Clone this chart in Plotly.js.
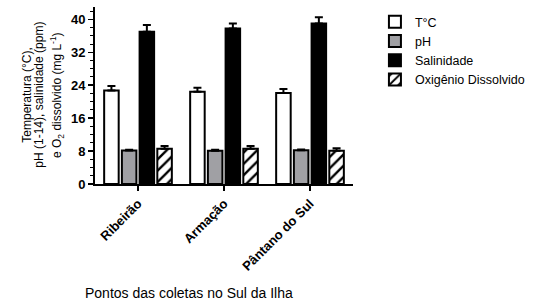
<!DOCTYPE html>
<html><head><meta charset="utf-8">
<script src="https://cdn.plot.ly/plotly-3.0.1.min.js"></script>
<style>html,body{margin:0;padding:0;background:#fff}#chart{width:537px;height:304px}</style>
</head><body><div id="chart"></div>
<script>
var categories = ["Ribeirão", "Armação", "Pântano do Sul"];
var seriesNames = ["T°C", "pH", "Salinidade", "Oxigênio Dissolvido"];
var temperatura = [22.7, 22.4, 22.1];
var temperaturaErr = [1.1, 1.0, 1.0];
var ph = [8.15, 8.1, 8.2];
var phErr = [0.2, 0.2, 0.2];
var salinidade = [37.0, 37.8, 39.0];
var salinidadeErr = [1.6, 1.2, 1.5];
var oxigenio = [8.55, 8.55, 8.05];
var oxigenioErr = [0.7, 0.7, 0.65];
var yTicks = [0, 8, 16, 24, 32, 40];
var yTitleLines = ['Temperatura (°C),', 'pH (1-14), salinidade (ppm)', 'e O<sub>2</sub> dissolvido (mg L<sup>-1</sup>)'];
var xTitle = 'Pontos das coletas no Sul da Ilha';

function bar(name, y, err, fill, pattern) {
  var t = {
    type: 'bar', name: name, x: categories, y: y,
    marker: {color: fill, line: {color: '#000', width: 2}},
    error_y: {type: 'data', symmetric: false, array: err, arrayminus: err.map(function(){return 0;}),
      color: '#000', thickness: 2, width: 4}
  };
  if (pattern) t.marker.pattern = pattern;
  return t;
}
var data = [
  bar(seriesNames[0], temperatura, temperaturaErr, '#ffffff'),
  bar(seriesNames[1], ph, phErr, '#a0a0a4'),
  bar(seriesNames[2], salinidade, salinidadeErr, '#000000'),
  bar(seriesNames[3], oxigenio, oxigenioErr, '#ffffff', {shape: '/', fgcolor: '#000', bgcolor: '#fff', size: 8, solidity: 0.3})
];
var plotL = 95, plotW = 268, plotT = 7, plotH = 177;
var annotations = [{
  xref: 'paper', yref: 'paper', x: (193 - plotL) / plotW, y: -(293 - (plotT + plotH)) / plotH,
  xanchor: 'center', yanchor: 'middle', showarrow: false,
  text: xTitle, font: {size: 14}
}];
var titleX = [24, 36.5, 55.5];
yTitleLines.forEach(function(s, i) {
  annotations.push({
    xref: 'paper', yref: 'paper', x: (titleX[i] - plotL) / plotW, y: (plotT + plotH - 95) / plotH,
    xanchor: 'center', yanchor: 'middle', showarrow: false, textangle: -90,
    text: s, font: {size: 12}
  });
});
var layout = {
  width: 537, height: 304,
  margin: {l: plotL, r: 537 - plotL - plotW, t: plotT, b: 304 - plotT - plotH},
  paper_bgcolor: '#fff', plot_bgcolor: '#fff',
  barmode: 'group', bargap: 0.176, bargroupgap: 0.18,
  font: {family: 'Liberation Sans, Arial, sans-serif', color: '#000'},
  showlegend: true,
  legend: {x: 1.085, y: 1.0, xanchor: 'left', yanchor: 'top', font: {size: 12.5}, bgcolor: 'rgba(0,0,0,0)', tracegroupgap: 0},
  xaxis: {
    range: [-0.5, 2.5], showline: true, linewidth: 2, linecolor: '#000',
    ticks: 'outside', ticklen: 5, tickwidth: 1.5, tickcolor: '#000',
    tickangle: -45, tickfont: {size: 13, weight: 'bold'}, showgrid: false, zeroline: false
  },
  yaxis: {
    range: [0, 43], tickvals: yTicks, ticktext: yTicks.map(String),
    showline: true, linewidth: 2, linecolor: '#000',
    ticks: 'outside', ticklen: 5, tickwidth: 1.5, tickcolor: '#000',
    minor: {dtick: 2, tick0: 0, ticks: 'outside', ticklen: 3, tickwidth: 1, tickcolor: '#000', showgrid: false},
    tickfont: {size: 13, weight: 'bold'}, showgrid: false, zeroline: false
  },
  annotations: annotations
};
Plotly.newPlot('chart', data, layout, {displayModeBar: false, staticPlot: true});
</script></body></html>
